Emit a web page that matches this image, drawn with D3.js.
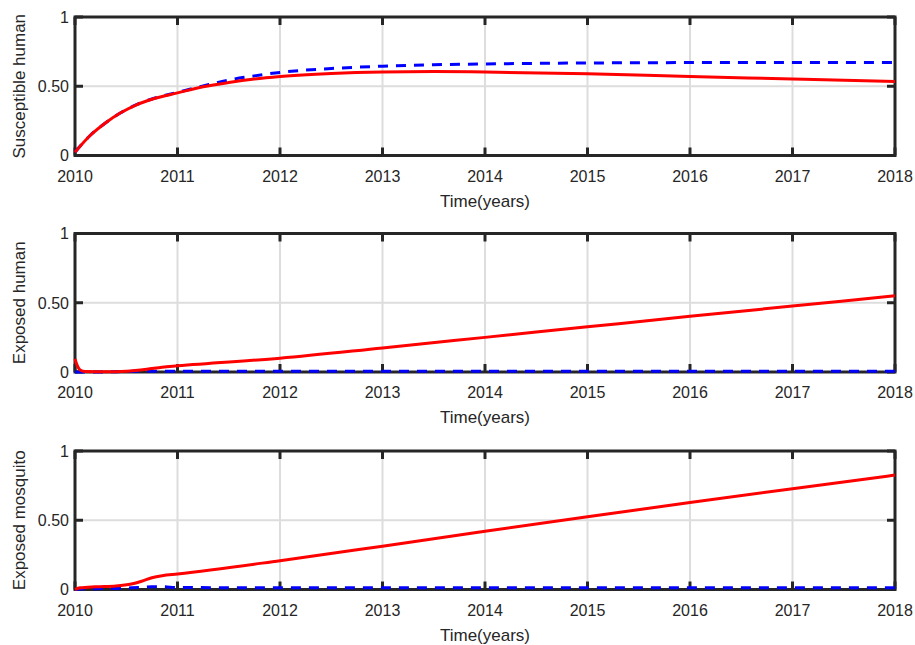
<!DOCTYPE html>
<html>
<head>
<meta charset="utf-8">
<script src="https://cdn.jsdelivr.net/npm/d3@7"></script>
<style>
  body { margin: 0; background: #fff; }
  text { font-family: "Liberation Sans", Arial, Helvetica, sans-serif; fill: #262626; }
</style>
</head>
<body>
<div id="chart"></div>
<script>
const width = 915;
const height = 645;

const yearTicks = [2010, 2011, 2012, 2013, 2014, 2015, 2016, 2017, 2018];
const yTicks = [0, 0.5, 1];
const yTickLabels = ["0", "0.50", "1"];
const yLabels = ["Susceptible human", "Exposed human", "Exposed mosquito"];
const xLabel = "Time(years)";

// susceptible human
const t1 = [2010, 2010.15, 2010.3, 2010.45, 2010.6, 2010.75, 2011, 2011.25, 2011.5, 2011.75, 2012, 2012.5, 2013, 2013.5, 2014, 2015, 2016, 2017, 2018];
const red1 = [0.024, 0.146, 0.237, 0.31, 0.366, 0.406, 0.452, 0.496, 0.527, 0.552, 0.57, 0.592, 0.603, 0.606, 0.603, 0.59, 0.57, 0.553, 0.535];
const blue1 = [0.024, 0.146, 0.237, 0.31, 0.367, 0.408, 0.456, 0.502, 0.545, 0.575, 0.6, 0.628, 0.645, 0.655, 0.661, 0.668, 0.671, 0.672, 0.672];

// exposed human
const t2 = [2010, 2010.02, 2010.05, 2010.1, 2010.3, 2010.5, 2010.7, 2010.85, 2011, 2012, 2013, 2014, 2015, 2016, 2017, 2018];
const red2 = [0.095, 0.05, 0.015, 0.004, 0.002, 0.006, 0.02, 0.035, 0.045, 0.1, 0.174, 0.25, 0.326, 0.402, 0.476, 0.55];
const blue2 = [0, 0, 0, 0, 0.001, 0.004, 0.006, 0.006, 0.006, 0.006, 0.006, 0.006, 0.006, 0.006, 0.006, 0.006];

// exposed mosquito
const t3 = [2010, 2010.05, 2010.2, 2010.4, 2010.55, 2010.65, 2010.75, 2010.85, 2011, 2012, 2013, 2014, 2015, 2016, 2017, 2018];
const red3 = [0, 0.012, 0.02, 0.026, 0.04, 0.06, 0.085, 0.1, 0.112, 0.208, 0.313, 0.42, 0.525, 0.628, 0.728, 0.826];
const blue3 = [0, 0.004, 0.006, 0.008, 0.012, 0.016, 0.02, 0.02, 0.014, 0.013, 0.013, 0.013, 0.013, 0.013, 0.013, 0.013];

const panels = [
    { top: 17, t: t1, red: red1, blue: blue1, label: yLabels[0] },
    { top: 233.5, t: t2, red: red2, blue: blue2, label: yLabels[1] },
    { top: 451, t: t3, red: red3, blue: blue3, label: yLabels[2] }
];

const left = 75, right = 895, panelH = 138.5;
const axisColor = "#262626";

const svg = d3.select("#chart").append("svg")
    .attr("width", width)
    .attr("height", height);

const x = d3.scaleLinear().domain([2010, 2018]).range([left, right]);

function drawPanel(p) {
    const y = d3.scaleLinear().domain([0, 1]).range([p.top + panelH, p.top]);
    const g = svg.append("g");

    // grid
    g.selectAll(".vgrid").data(yearTicks.slice(1, -1)).enter().append("line")
        .attr("x1", d => x(d)).attr("x2", d => x(d))
        .attr("y1", y(0)).attr("y2", y(1))
        .attr("stroke", "#dddddd").attr("stroke-width", 2);
    g.selectAll(".hgrid").data([0.5]).enter().append("line")
        .attr("x1", left).attr("x2", right)
        .attr("y1", d => y(d)).attr("y2", d => y(d))
        .attr("stroke", "#dddddd").attr("stroke-width", 2);

    // box
    g.append("rect")
        .attr("x", left).attr("y", p.top)
        .attr("width", right - left).attr("height", panelH)
        .attr("fill", "none").attr("stroke", axisColor).attr("stroke-width", 3);

    // inward ticks
    const tl = 8;
    yearTicks.forEach(d => {
        g.append("line").attr("x1", x(d)).attr("x2", x(d)).attr("y1", y(0)).attr("y2", y(0) - tl)
            .attr("stroke", axisColor).attr("stroke-width", 3);
        g.append("line").attr("x1", x(d)).attr("x2", x(d)).attr("y1", y(1)).attr("y2", y(1) + tl)
            .attr("stroke", axisColor).attr("stroke-width", 3);
    });
    yTicks.forEach(d => {
        g.append("line").attr("x1", left).attr("x2", left + tl).attr("y1", y(d)).attr("y2", y(d))
            .attr("stroke", axisColor).attr("stroke-width", 3);
        g.append("line").attr("x1", right).attr("x2", right - tl).attr("y1", y(d)).attr("y2", y(d))
            .attr("stroke", axisColor).attr("stroke-width", 3);
    });

    // tick labels
    g.selectAll(".xt").data(yearTicks).enter().append("text")
        .attr("x", d => x(d)).attr("y", y(0) + 26)
        .attr("text-anchor", "middle").attr("font-size", 16)
        .text(d => d);
    g.selectAll(".yt").data(yTicks).enter().append("text")
        .attr("x", left - 6).attr("y", d => y(d))
        .attr("dy", "0.36em")
        .attr("text-anchor", "end").attr("font-size", 16)
        .text((d, i) => yTickLabels[i]);

    // axis labels
    g.append("text")
        .attr("x", (left + right) / 2).attr("y", y(0) + 51)
        .attr("text-anchor", "middle").attr("font-size", 17)
        .text(xLabel);
    g.append("text")
        .attr("transform", `translate(25, ${p.top + panelH / 2}) rotate(-90)`)
        .attr("text-anchor", "middle").attr("font-size", 17)
        .text(p.label);

    // series
    const line = vals => d3.line()
        .x((d, i) => x(p.t[i]))
        .y(d => y(d))
        .curve(d3.curveMonotoneX)(vals);

    g.append("path").attr("d", line(p.blue))
        .attr("fill", "none").attr("stroke", "#0000ff")
        .attr("stroke-width", 3).attr("stroke-dasharray", "10,8");
    g.append("path").attr("d", line(p.red))
        .attr("fill", "none").attr("stroke", "#ff0000")
        .attr("stroke-width", 3);
}

panels.forEach(drawPanel);
</script>
</body>
</html>
